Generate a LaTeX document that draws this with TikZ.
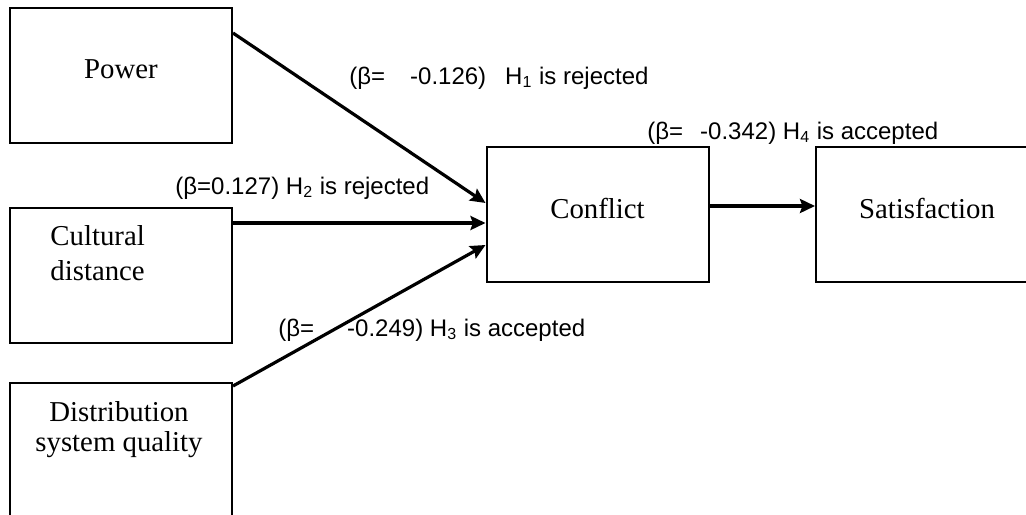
\documentclass[tikz,border=0pt]{standalone}
\usepackage{fontspec}
\setmainfont{Liberation Serif}
\newfontfamily\labelfont{Liberation Sans}
\usetikzlibrary{arrows.meta}

\begin{document}
\begin{tikzpicture}[x=0.5pt, y=-0.5pt,
  box/.style={draw, line width=1pt, minimum width=111pt, minimum height=67.5pt,
    inner sep=0pt, text depth=6pt, font=\fontsize{14.4}{17.5}\selectfont},
  boxtext/.style={inner sep=0pt, font=\fontsize{14.4}{17.5}\selectfont},
  link/.style={line width=1.6pt, -{Stealth[length=7.5pt,width=7pt,inset=1.2pt]}},
  beta/.style={inner sep=0pt, anchor=west, font=\labelfont\fontsize{12}{14}\selectfont}]

  % page frame
  \useasboundingbox (0,0) rectangle (1026,514);
  \clip (0,0) rectangle (1026,514);

  % boxes
  \node[box] (power) at (121,75.5) {Power};
  \node[box] (cult) at (121,275.5) {};
  \node[box] (dist) at (121,450.5) {};
  \node[box] (conflict) at (597.5,214.5) {Conflict};
  \node[box] (satis) at (927,214.5) {Satisfaction};

  % texts of the two left boxes
  \node[boxtext, anchor=north west, align=left] (culttext) at (50,225) {Cultural\\distance};
  \node[boxtext, anchor=north, align=center, font=\fontsize{14.4}{15}\selectfont] (disttext) at (119,401) {Distribution\\system quality};

  % paths
  \draw[link] ([yshift=21.25pt]power.east) -- ([yshift=5.75pt]conflict.west);
  \draw[link] ([yshift=26.25pt]cult.east) -- ([yshift=-4.25pt]conflict.west);
  \draw[link] ([yshift=-2pt]dist.north east) -- ([yshift=-15.25pt]conflict.west);
  \draw[link] ([yshift=4.25pt]conflict.east) -- ([yshift=4.25pt]satis.west);

  % coefficients
  \node[beta] (h1) at (349,78) {(β=\hspace{12.5pt}-0.126)\hspace{9.5pt}H\textsubscript{1} is rejected};
  \node[beta] (h2) at (175,188) {(β=0.127) H\textsubscript{2} is rejected};
  \node[beta] (h3) at (278,330) {(β=\hspace{16.5pt}-0.249) H\textsubscript{3} is accepted};
  \node[beta] (h4) at (647,133) {(β=\hspace{8.5pt}-0.342) H\textsubscript{4} is accepted};

\end{tikzpicture}
\end{document}
